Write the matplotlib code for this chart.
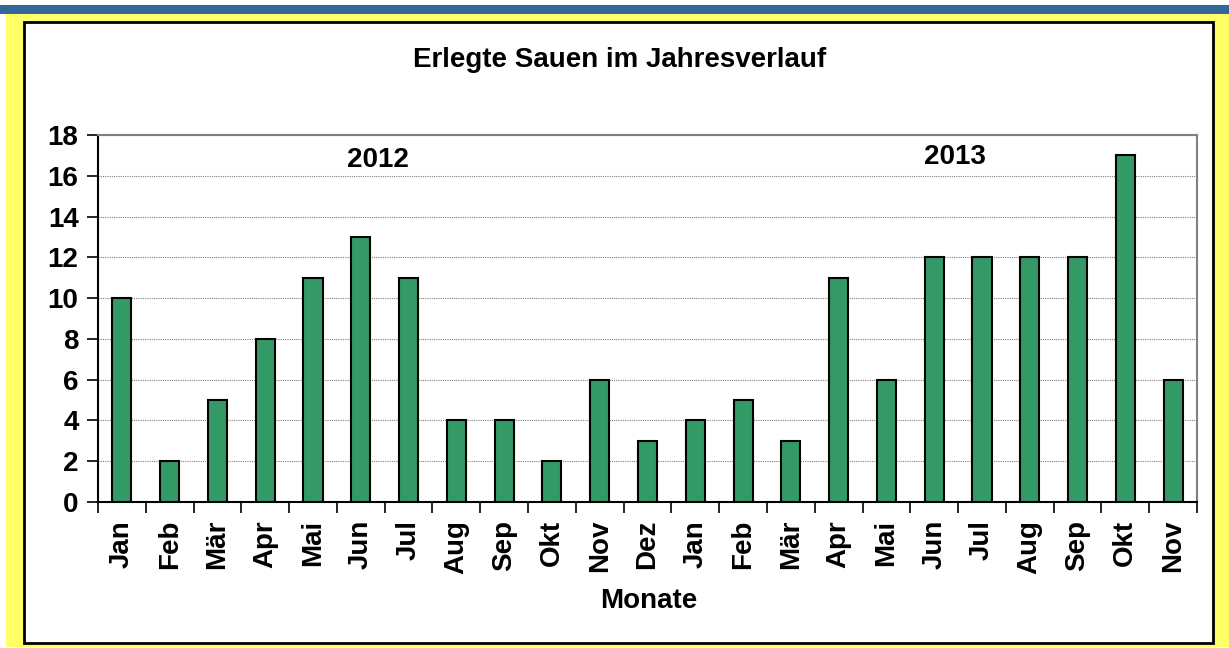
import numpy as np
import matplotlib
matplotlib.use("Agg")
import matplotlib.pyplot as plt
from matplotlib.patches import Rectangle

# Daten
monate = ["Jan", "Feb", "Mär", "Apr", "Mai", "Jun", "Jul", "Aug", "Sep", "Okt", "Nov", "Dez",
          "Jan", "Feb", "Mär", "Apr", "Mai", "Jun", "Jul", "Aug", "Sep", "Okt", "Nov"]
sauen = [10, 2, 5, 8, 11, 13, 11, 4, 4, 2, 6, 3,
         4, 5, 3, 11, 6, 12, 12, 12, 12, 17, 6]
jahre = ["2012", "2013"]
y_ticks = [0, 2, 4, 6, 8, 10, 12, 14, 16, 18]

plt.rcParams['font.family'] = ['Liberation Sans', 'DejaVu Sans']
plt.rcParams['font.weight'] = 'bold'

W, H = 1229, 648
fig = plt.figure(figsize=(W / 100, H / 100), dpi=100)


def px_rect(x0, y0, x1, y1, **kw):
    # Rechteck in Pixelkoordinaten (y von oben)
    return Rectangle((x0 / W, 1 - y1 / H), (x1 - x0) / W, (y1 - y0) / H,
                     transform=fig.transFigure, **kw)


# Rahmen: blauer Balken, gelber Hintergrund, weiße Fläche mit schwarzem Rand
fig.patches.append(px_rect(0, 5, W, 14, facecolor='#336699', edgecolor='none', zorder=0))
fig.patches.append(px_rect(6, 14, W, 647, facecolor='#FFFF66', edgecolor='none', zorder=0))
fig.patches.append(px_rect(24, 22, 1213, 643, facecolor='white', edgecolor='black',
                           linewidth=2, zorder=0))

ax = fig.add_axes([98 / W, 1 - 502 / H, (1197 - 98) / W, (502 - 135) / H])
ax.set_zorder(1)
ax.patch.set_alpha(0)

x = np.arange(len(sauen))
ax.bar(x, sauen, width=0.4, color='#339966', edgecolor='black', linewidth=1.5, zorder=3)

ax.set_xlim(-0.5, len(sauen) - 0.5)
ax.set_ylim(0, 18)
ax.set_yticks(y_ticks)
ax.set_yticklabels([str(v) for v in y_ticks], fontsize=20, fontweight='bold')
ax.yaxis.grid(True, linestyle=(0, (1, 1)), color='#808080', linewidth=0.8, zorder=0)

ax.set_xticks(x)
ax.set_xticklabels(monate, rotation=90, fontsize=20, fontweight='bold')
ax.set_xticks(np.arange(-0.5, len(sauen)), minor=True)
ax.tick_params(axis='x', which='major', length=0, pad=13)
ax.tick_params(axis='x', which='minor', length=8, width=1.2, direction='out')
ax.tick_params(axis='y', length=8, width=1.2, direction='out', pad=6)

ax.spines['left'].set_linewidth(1.5)
ax.spines['bottom'].set_linewidth(1.5)
ax.spines['top'].set_color('#808080')
ax.spines['right'].set_color('#808080')
ax.spines['top'].set_linewidth(1.5)
ax.spines['right'].set_linewidth(1.5)

ax.text(5.36, 16.77, jahre[0], ha='center', va='center', fontsize=20, fontweight='bold')
ax.text(17.44, 16.92, jahre[1], ha='center', va='center', fontsize=20, fontweight='bold')

fig.text(620 / W, 1 - 60 / H, "Erlegte Sauen im Jahresverlauf", ha='center', va='center',
         fontsize=20, fontweight='bold')
fig.text(649 / W, 1 - 601 / H, "Monate", ha='center', va='center',
         fontsize=20, fontweight='bold')

fig.savefig("out.png", dpi=100)
